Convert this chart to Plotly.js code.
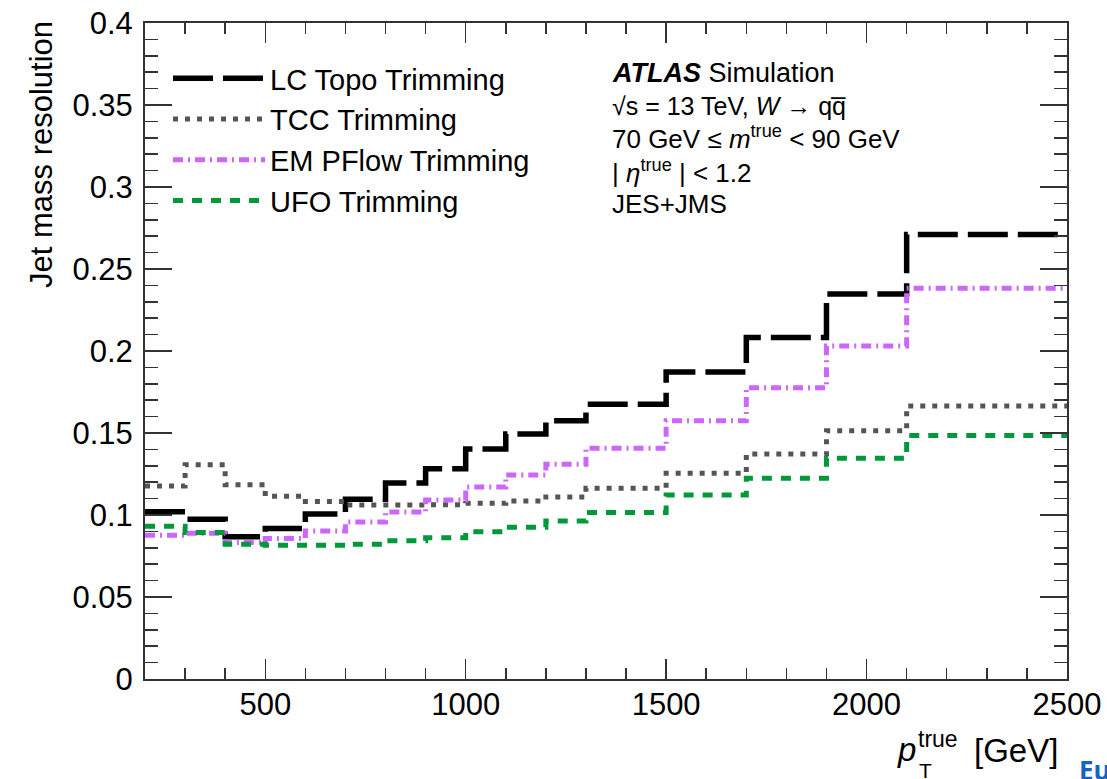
<!DOCTYPE html>
<html>
<head>
<meta charset="utf-8">
<script src="https://cdn.plot.ly/plotly-3.0.1.min.js"></script>
<style>html,body{margin:0;padding:0;background:#fff;}#plot{width:1107px;height:779px;}</style>
</head>
<body>
<div id="plot"></div>
<script>
// Bin edges in pT^true [GeV]
var binEdges = [200, 300, 400, 500, 600, 700, 800, 900, 1000, 1100, 1200, 1300, 1500, 1700, 1900, 2100, 2500];

// Jet mass resolution per bin
var lcTopo  = [0.1020, 0.0974, 0.0868, 0.0917, 0.1006, 0.1096, 0.1195, 0.1282, 0.1402, 0.1494, 0.1575, 0.1675, 0.1872, 0.2083, 0.2348, 0.2711];
var tcc     = [0.1177, 0.1307, 0.1184, 0.1114, 0.1083, 0.1061, 0.1061, 0.1063, 0.1071, 0.1085, 0.1110, 0.1163, 0.1254, 0.1372, 0.1513, 0.1665];
var emPflow = [0.0876, 0.0888, 0.0832, 0.0856, 0.0903, 0.0957, 0.1018, 0.1091, 0.1171, 0.1244, 0.1309, 0.1407, 0.1575, 0.1776, 0.2031, 0.2382];
var ufo     = [0.0931, 0.0893, 0.0822, 0.0815, 0.0815, 0.0822, 0.0843, 0.0862, 0.0898, 0.0925, 0.0963, 0.1016, 0.1122, 0.1224, 0.1346, 0.1484];

var seriesNames = ["LC Topo Trimming", "TCC Trimming", "EM PFlow Trimming", "UFO Trimming"];

var xTickVals = [500, 1000, 1500, 2000, 2500];
var yTickVals = [0, 0.05, 0.1, 0.15, 0.2, 0.25, 0.3, 0.35, 0.4];

var FONT = "Liberation Sans, Arial, Helvetica, sans-serif";

function stepY(v) { return v.concat([v[v.length - 1]]); }

function mk(name, vals, color, dash, width) {
  return {
    type: "scatter", mode: "lines", name: name,
    x: binEdges, y: stepY(vals),
    line: {shape: "hv", color: color, dash: dash, width: width},
    hoverinfo: "x+y+name"
  };
}

var traces = [
  mk(seriesNames[0], lcTopo, "#000000", "40px,10px", 5.5),
  mk(seriesNames[1], tcc, "#555555", "5px,7px", 5),
  mk(seriesNames[2], emPflow, "#cc66ff", "10px,5px,2px,5px", 5),
  mk(seriesNames[3], ufo, "#00993a", "10px,9px", 5)
];

// plot area: x 145..1067, y 23..679
function px(x) { return (x - 145) / 922; }
function py(y) { return (679 - y) / 656; }

function ann(text, x, y, xanchor, size, extra) {
  var a = {text: text, x: px(x), y: py(y), xref: "paper", yref: "paper",
    xanchor: xanchor, yanchor: "middle", showarrow: false,
    font: {family: FONT, size: size, color: "#000"}};
  return Object.assign(a, extra || {});
}

var annotations = [
  ann("Jet mass resolution", 42, 155, "center", 31, {textangle: -90}),
  ann("<i>p</i>", 906, 749, "center", 33),
  ann("true", 916, 739, "left", 23),
  ann("T", 925, 771, "center", 21),
  ann("[GeV]", 972, 750, "left", 33),
  ann("<b>Eu</b>", 1077, 770, "left", 26, {font: {family: "Open Sans, " + FONT, size: 26, color: "#1565c0"}}),
  ann("<b><i>ATLAS</i></b> Simulation", 610, 73, "left", 27),
  ann("\u221As = 13 TeV, <i>W</i> \u2192 qq\u0305", 610, 106, "left", 25),
  ann("70 GeV \u2264 <i>m</i><sup>true</sup> < 90 GeV", 610, 137, "left", 26),
  ann("| <i>\u03B7</i><sup>true</sup> | < 1.2", 610, 171, "left", 26),
  ann("JES+JMS", 610, 204, "left", 26)
];

var axisCommon = {
  showline: true, linecolor: "#333", linewidth: 2, mirror: "allticks",
  ticks: "inside", tickcolor: "#333", tickwidth: 1.5,
  showgrid: false, zeroline: false,
  tickfont: {family: FONT, size: 31, color: "#000"}
};

var layout = {
  width: 1107, height: 779,
  margin: {l: 145, r: 40, t: 23, b: 100},
  paper_bgcolor: "#fff", plot_bgcolor: "#fff",
  font: {family: FONT, color: "#000"},
  xaxis: Object.assign({}, axisCommon, {
    range: [200, 2500], tickmode: "array", tickvals: xTickVals,
    ticktext: xTickVals.map(String), ticklen: 20, ticklabelstandoff: -3,
    minor: {dtick: 100, tick0: 0, ticks: "inside", ticklen: 11, tickcolor: "#333", tickwidth: 1.5, showgrid: false}
  }),
  yaxis: Object.assign({}, axisCommon, {
    range: [0, 0.4], tickmode: "array", tickvals: yTickVals,
    ticktext: yTickVals.map(String), ticklen: 27, ticklabelstandoff: 4,
    minor: {dtick: 0.01, tick0: 0, ticks: "inside", ticklen: 13, tickcolor: "#333", tickwidth: 1.5, showgrid: false}
  }),
  showlegend: true,
  legend: {
    x: px(168), y: py(53), xanchor: "left", yanchor: "top",
    bgcolor: "rgba(0,0,0,0)", borderwidth: 0,
    font: {family: FONT, size: 29, color: "#000"},
    itemwidth: 92, tracegroupgap: 0, traceorder: "normal"
  },
  annotations: annotations
};

Plotly.newPlot("plot", traces, layout, {displayModeBar: false, staticPlot: true});
</script>
</body>
</html>
